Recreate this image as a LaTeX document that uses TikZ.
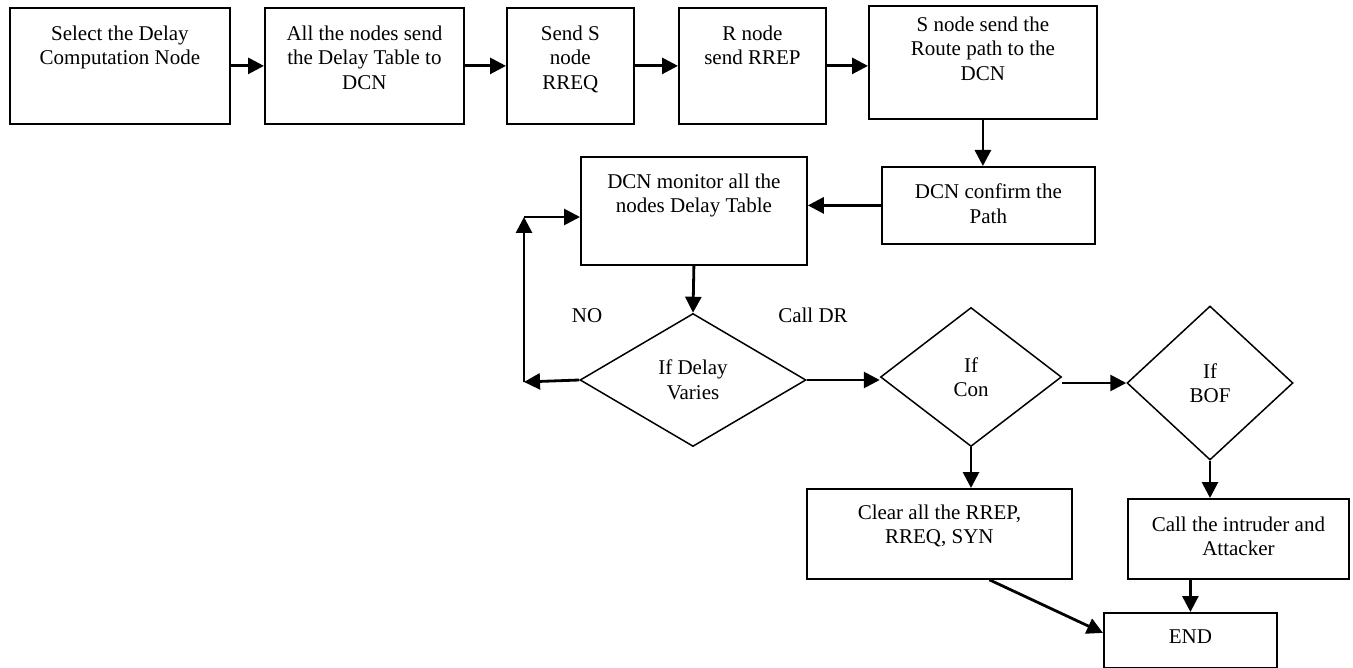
\documentclass[tikz,border=0pt]{standalone}
\usepackage{fontspec}
\setmainfont{Liberation Serif}
\usetikzlibrary{arrows.meta,shapes.geometric,calc}
% box content: width, height, top gap, text (set from the top of the box)
\newcommand\boxtxt[4]{\parbox[c][#2pt][t]{#1pt}{\centering\vspace*{#3pt}#4\par}}

\begin{document}
\begin{tikzpicture}[x=1pt,y=-1pt,
  every node/.style={font=\fontsize{21}{24.5}\selectfont},
  stepbox/.style={draw,rectangle,line width=1.8pt,inner sep=0pt,anchor=north west},
  decision/.style={draw,diamond,line width=1.5pt,inner sep=0pt,align=center},
  flow/.style={line width=2.8pt,-{Triangle[length=16pt,width=16pt]}},
  tag/.style={anchor=base}]
\useasboundingbox (0,0) rectangle (1353,668);

% top row
\node[stepbox] (b1) at (9,7)   {\boxtxt{220}{116}{18}{Select the Delay\\Computation Node}};
\node[stepbox] (b2) at (264,7) {\boxtxt{199}{116}{18}{All the nodes send\\the Delay Table to\\DCN}};
\node[stepbox] (b3) at (506,7) {\boxtxt{127}{116}{18}{Send S\\node\\RREQ}};
\node[stepbox] (b4) at (678,7) {\boxtxt{147}{116}{18}{R node\\send RREP}};
\node[stepbox] (b5) at (868,5) {\boxtxt{228}{113}{11}{S node send the\\Route path to the\\DCN}};

% confirmation and monitoring
\node[stepbox] (b6)  at (881,166) {\boxtxt{213}{77}{17}{DCN confirm the\\Path}};
\node[stepbox] (mon) at (580,156) {\boxtxt{226}{108}{17}{DCN monitor all the\\nodes Delay Table}};

% decisions
\node[decision,minimum width=226pt,minimum height=133pt,aspect=1.7] (d1) at (693,380) {If Delay\\Varies};
\node[decision,minimum width=181pt,minimum height=139pt,aspect=1.3] (d2) at (971,377) {If\\Con};
\node[decision,minimum width=166pt,minimum height=154pt,aspect=1.08] (d3) at (1210,383) {If\\BOF};

% outcomes
\node[stepbox] (clear) at (806,488)  {\boxtxt{265}{90}{16}{Clear all the RREP,\\RREQ, SYN}};
\node[stepbox] (call)  at (1127,498) {\boxtxt{221}{80}{18}{Call the intruder and\\Attacker}};
\node[stepbox] (endn)  at (1103,612) {\boxtxt{173}{55}{17}{END}};

% branch labels
\node[tag] (no) at (587,323) {NO};
\node[tag] (dr) at (813,323) {Call DR};

% loop-back corners
\coordinate (lb) at (524,382);
\coordinate (lt) at (524,217);

% connectors
\draw[flow] (b1.east) -- (b1.east -| b2.west);
\draw[flow] (b2.east) -- (b2.east -| b3.west);
\draw[flow] (b3.east) -- (b3.east -| b4.west);
\draw[flow] (b4.east) -- (b4.east -| b5.west);
\draw[flow] (b5.south) -- (b5.south |- b6.north);
\draw[flow] (b6.west) -- (b6.west -| mon.east);
\draw[flow] (mon.south) -- (d1.north);
\draw[flow] (d1.west) -- (lb);
\draw[flow] (lb) -- (lt);
\draw[flow] (lt) -- (lt -| mon.west);
\draw[flow] (d1.east) -- (d1.east -| d2.west);
\draw[flow] (d2.east |- d3.west) -- (d3.west);
\draw[flow] (d2.south) -- (d2.south |- clear.north);
\draw[flow] (d3.south) -- (d3.south |- call.north);
\draw[flow] (call.south -| endn.north) -- (endn.north);
\draw[flow] ([xshift=50pt]clear.south) -- ([yshift=7.5pt]endn.west);
\end{tikzpicture}
\end{document}
